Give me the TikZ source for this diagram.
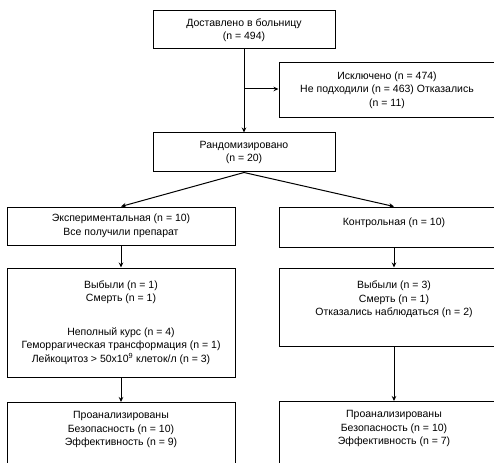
\documentclass[tikz,border=0pt]{standalone}
\usepackage{fontspec}
\setmainfont{Liberation Sans}
\usetikzlibrary{arrows.meta}
\newcommand{\diagfont}{\fontsize{10.5}{13.5}\selectfont}
\begin{document}
\begin{tikzpicture}[x=1pt,y=-1pt,
  box/.style={draw, line width=1pt, align=center, inner sep=0pt, font=\diagfont},
  arr/.style={-{Stealth[length=5pt,width=4.5pt]}, line width=1pt}]
\useasboundingbox (0,0) rectangle (494,462);
\clip (0,0) rectangle (494,462);
\fill[white] (0,0) rectangle (494,462);

\node[box, minimum width=182, minimum height=38] (b1) at (244,30)
  {Доставлено в больницу\\(n = 494)};
\node[box, minimum width=216, minimum height=55] (b2) at (387,90)
  {Исключено (n = 474)\\Не подходили (n = 463) Отказались\\(n = 11)};
\node[box, minimum width=182, minimum height=39] (b3) at (244,152.5)
  {Рандомизировано\\(n = 20)};
\node[box, minimum width=228, minimum height=38] (b4) at (121,226)
  {Экспериментальная (n = 10)\\Все получили препарат};
\node[box, minimum width=230, minimum height=40] (b5) at (394,227)
  {Контрольная (n = 10)\\[-6pt]\strut};
\node[box, minimum width=228, minimum height=109] (b6) at (121,322.5)
  {Выбыли (n = 1)\\Смерть (n = 1)\\[20pt]Неполный курс (n = 4)\\Геморрагическая трансформация (n = 1)\\Лейкоцитоз > 50x10\textsuperscript{9} клеток/л (n = 3)};
\node[box, minimum width=230, minimum height=78] (b7) at (394,307)
  {Выбыли (n = 3)\\Смерть (n = 1)\\Отказались наблюдаться (n = 2)\\\strut};
\node[box, minimum width=228, minimum height=70, anchor=north] (b8) at (121,402)
  {Проанализированы\\Безопасность (n = 10)\\Эффективность (n = 9)\\\strut};
\node[box, minimum width=230, minimum height=70, anchor=north] (b9) at (394,401)
  {Проанализированы\\Безопасность (n = 10)\\Эффективность (n = 7)\\\strut};

\coordinate (br) at (244,89);
\draw[arr] (b1.south) -- (b3.north);
\draw[arr] (br) -- (br -| b2.west);
\draw[arr] (b3.south) -- (b4.north);
\draw[arr] (b3.south) -- (b5.north);
\draw[arr] (b4.south) -- (b6.north);
\draw[arr] (b5.south) -- (b7.north);
\draw[arr] (b6.south) -- (b8.north);
\draw[arr] (b7.south) -- (b9.north);
\end{tikzpicture}
\end{document}
